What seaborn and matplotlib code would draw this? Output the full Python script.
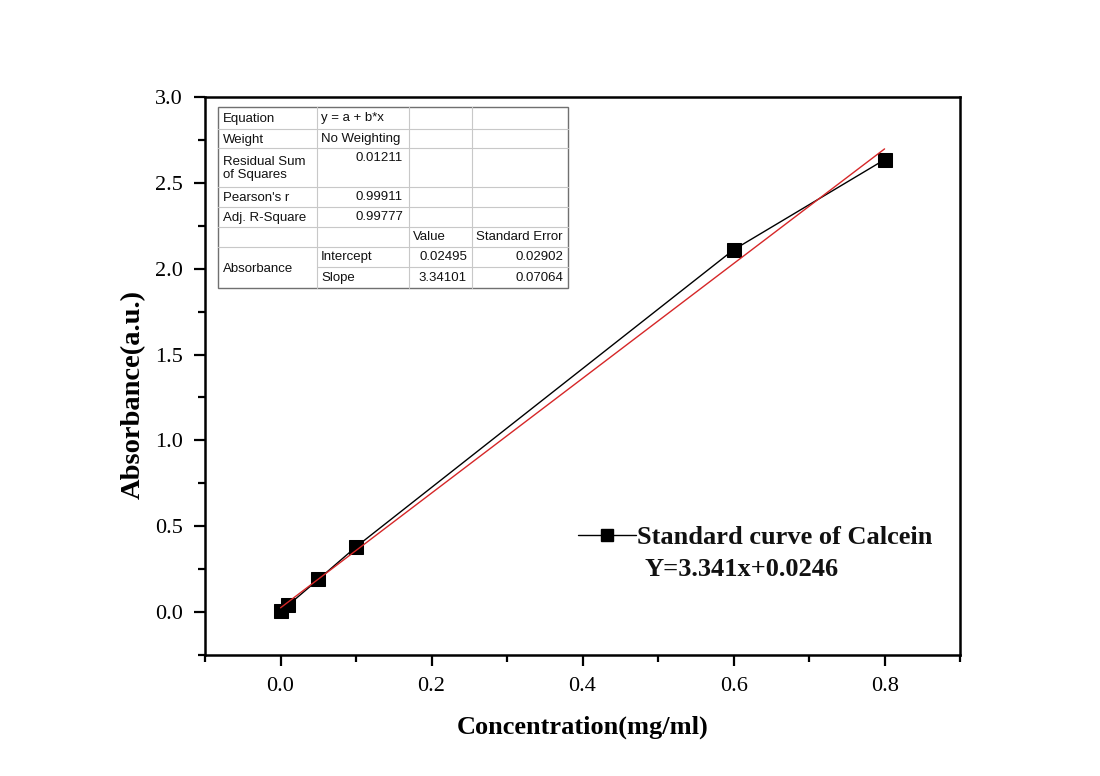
import numpy as np
import pandas as pd
import matplotlib
matplotlib.use("Agg")
import matplotlib.pyplot as plt
import seaborn as sns
from matplotlib.ticker import MultipleLocator, AutoMinorLocator
from matplotlib.lines import Line2D

# data
conc = [0.0, 0.01, 0.05, 0.1, 0.6, 0.8]
absorb = [0.005, 0.04, 0.19, 0.38, 2.11, 2.635]
intercept = 0.02495
slope = 3.34101
fit_x = [0.0, 0.8]

# fit-statistics table (as printed in the plot)
table_rows = [
    ["Equation", "y = a + b*x", "", ""],
    ["Weight", "No Weighting", "", ""],
    ["Residual Sum\nof Squares", "0.01211", "", ""],
    ["Pearson's r", "0.99911", "", ""],
    ["Adj. R-Square", "0.99777", "", ""],
    ["", "", "Value", "Standard Error"],
]
param_names = ["Intercept", "Slope"]
param_values = ["0.02495", "3.34101"]
param_errors = ["0.02902", "0.07064"]

sns.set_theme(style="ticks", rc={"text.color": "black", "axes.labelcolor": "black",
                                 "xtick.color": "black", "ytick.color": "black",
                                 "axes.edgecolor": "black"})
plt.rcParams["font.family"] = ["Liberation Serif", "DejaVu Serif"]

df = pd.DataFrame({"x": conc, "y": absorb})
fit_df = pd.DataFrame({"x": fit_x, "y": [intercept + slope * v for v in fit_x]})

fig = plt.figure(figsize=(11, 7.76), dpi=100)
ax = fig.add_axes([0.1864, 0.1559, 0.6864, 0.7191])

sns.lineplot(data=df, x="x", y="y", ax=ax, color="black", linewidth=1.0,
             marker="s", markersize=10, markeredgecolor="black", zorder=3)
sns.lineplot(data=fit_df, x="x", y="y", ax=ax, color="#d62728", linewidth=1.0, zorder=4)

ax.set_xlim(-0.1, 0.9)
ax.set_ylim(-0.25, 3.0)
ax.xaxis.set_major_locator(MultipleLocator(0.2))
ax.xaxis.set_minor_locator(AutoMinorLocator(2))
ax.yaxis.set_major_locator(MultipleLocator(0.5))
ax.yaxis.set_minor_locator(AutoMinorLocator(2))
ax.xaxis.set_major_formatter(plt.FuncFormatter(lambda v, p: f"{v:.1f}"))
ax.yaxis.set_major_formatter(plt.FuncFormatter(lambda v, p: f"{v:.1f}"))
ax.tick_params(which="major", direction="out", length=8, width=1.6, labelsize=16, pad=8,
               top=False, right=False, colors="black")
ax.tick_params(which="minor", direction="out", length=5, width=1.6, top=False, right=False)
for s in ax.spines.values():
    s.set_linewidth(1.8)
    s.set_color("black")

ax.set_xlabel("Concentration(mg/ml)", fontsize=19, fontweight="bold")
ax.set_ylabel("Absorbance(a.u.)", fontsize=20.5, fontweight="bold")
ax.xaxis.set_label_coords(0.5, -0.108)
ax.yaxis.set_label_coords(-0.078, 0.466)

# legend
handle = Line2D([], [], color="black", linewidth=1.0, marker="s", markersize=9)
leg = ax.legend([handle], ["Standard curve of Calcein"], loc="upper left",
                bbox_to_anchor=(0.4795, 0.251), frameon=False,
                prop={"family": "Liberation Serif", "weight": "bold", "size": 19},
                handlelength=2.2, handletextpad=0.05, borderaxespad=0)
for t in leg.get_texts():
    t.set_color("#111111")
fig.text(645 / 1100, 1 - 569 / 776, "Y=3.341x+0.0246", fontsize=19, fontweight="bold",
         va="center", ha="left", family="Liberation Serif", color="#111111")

# statistics table drawn in pixel coordinates of the figure
W, H = 1100.0, 776.0
col_x = [218, 317, 409, 472, 568]
row_y = [107, 129, 148, 187, 207, 227, 247, 267, 288]
grid_c = "#c8c8c8"
edge_c = "#707070"
tfont = {"family": "Liberation Sans", "size": 9.5, "color": "#111111"}

def fx(px):
    return px / W

def fy(py):
    return 1 - py / H

for k, yy in enumerate(row_y[1:-1], start=1):
    x0 = col_x[1] if k == 7 else col_x[0]
    fig.add_artist(Line2D([fx(x0), fx(col_x[-1])], [fy(yy), fy(yy)], color=grid_c, lw=0.8))
for xx in col_x[1:-1]:
    fig.add_artist(Line2D([fx(xx), fx(xx)], [fy(row_y[0]), fy(row_y[-1])], color=grid_c, lw=0.8))
fig.add_artist(plt.Rectangle((fx(col_x[0]), fy(row_y[-1])), fx(col_x[-1] - col_x[0]),
                             (row_y[-1] - row_y[0]) / H, fill=False, edgecolor=edge_c, lw=1.0))

for i, row in enumerate(table_rows):
    top, bot = row_y[i], row_y[i + 1]
    ty = top + 10 if i == 2 else (top + bot) / 2 + 0.5
    for j, txt in enumerate(row):
        if not txt:
            continue
        if j == 0:
            fig.text(fx(col_x[0] + 5), fy((top + bot) / 2 + 1), txt, va="center", ha="left",
                     linespacing=1.15, **tfont)
        elif i == 5 or (j == 1 and i < 2):
            fig.text(fx(col_x[j] + 4), fy(ty), txt, va="center", ha="left", **tfont)
        else:
            fig.text(fx(col_x[2] - 6), fy(ty), txt, va="center", ha="right", **tfont)

fig.text(fx(col_x[0] + 5), fy((row_y[6] + row_y[8]) / 2 + 1), "Absorbance", va="center",
         ha="left", **tfont)
for k in range(2):
    ty = (row_y[6 + k] + row_y[7 + k]) / 2
    fig.text(fx(col_x[1] + 4), fy(ty), param_names[k], va="center", ha="left", **tfont)
    fig.text(fx(col_x[3] - 5), fy(ty), param_values[k], va="center", ha="right", **tfont)
    fig.text(fx(col_x[4] - 5), fy(ty), param_errors[k], va="center", ha="right", **tfont)

fig.savefig("out.png", dpi=100, facecolor="white")
